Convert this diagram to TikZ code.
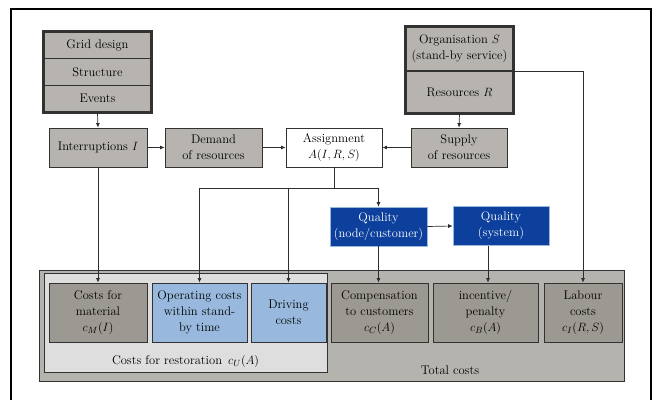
\documentclass[tikz,border=0pt]{standalone}
\usetikzlibrary{arrows.meta,calc}
\definecolor{boxgray}{RGB}{183,180,175}
\definecolor{matgray}{RGB}{156,152,146}
\definecolor{totgray}{RGB}{181,179,173}
\definecolor{restgray}{RGB}{222,222,222}
\definecolor{lblue}{RGB}{152,185,221}
\definecolor{dblue}{RGB}{12,64,156}
\definecolor{edge}{RGB}{50,50,50}
\definecolor{linec}{RGB}{45,45,45}
\begin{document}
\begin{tikzpicture}[x=1pt,y=-1pt,
  every node/.style={font=\fontsize{12.5}{16}\selectfont, inner sep=0pt, align=center},
  gbox/.style={draw=edge, fill=boxgray, line width=0.8pt},
  stackbox/.style={draw=edge, fill=boxgray, line width=1.6pt},
  costbox/.style={draw=edge, line width=0.8pt},
  qbox/.style={draw=lblue, fill=dblue, text=white, line width=0.6pt},
  conn/.style={draw=linec, line width=0.7pt},
  arr/.style={conn, -{Latex[length=4.5pt,width=4pt]}}
]
\useasboundingbox (0,0) rectangle (654,400);
% outer frame (open at bottom)
\draw[line width=1.4pt, draw=black] (11,400) -- (11,9) -- (651,9) -- (651,400);

% left stack
\node[stackbox, minimum width=107pt, minimum height=26.7pt] (gd) at (97.5,45.3) {Grid design};
\node[stackbox, minimum width=107pt, minimum height=26.7pt] (st) at (97.5,72) {Structure};
\node[stackbox, minimum width=107pt, minimum height=26.7pt] (ev) at (97.5,98.7) {Events};
\draw[edge, line width=3pt] (gd.north west) rectangle (ev.south east);

% right stack
\node[stackbox, minimum width=107pt, minimum height=44pt] (org) at (459.5,49) {Organisation $S$\\(stand-by service)};
\node[stackbox, minimum width=107pt, minimum height=42pt] (res) at (459.5,92) {Resources $R$};
\draw[edge, line width=3pt] (org.north west) rectangle (res.south east);

% second row
\node[gbox, minimum width=98pt, minimum height=39pt] (intr) at (98,147.5) {Interruptions $I$};
\node[gbox, minimum width=97pt, minimum height=39pt] (dem) at (213.5,147.5) {Demand\\of resources};
\node[draw=edge, fill=white, line width=0.8pt, minimum width=96pt, minimum height=39pt] (asg) at (334,147.5) {Assignment\\$A(I,R,S)$};
\node[gbox, minimum width=96pt, minimum height=39pt] (sup) at (459,147.5) {Supply\\of resources};

% quality
\node[qbox, minimum width=97pt, minimum height=39pt] (qn) at (378.5,226.5) {Quality\\(node/customer)};
\node[qbox, minimum width=96pt, minimum height=39pt] (qs) at (501,226) {Quality\\(system)};

% cost containers
\node[draw=edge, fill=totgray, line width=1pt, minimum width=585pt, minimum height=111pt] (tot) at (331.5,325.5) {};
\node[draw=edge, fill=restgray, line width=0.8pt, minimum width=283pt, minimum height=99pt] (rest) at (185.5,322.5) {};
\node (restl) at (185.5,361) {Costs for restoration \,$c_U(A)$};
\node (totl) at (450,370) {Total costs};

\node[costbox, fill=matgray, minimum width=98pt, minimum height=59pt] (mat) at (98,312.5) {Costs for\\material\\$c_M(I)$};
\node[costbox, fill=lblue, minimum width=95pt, minimum height=59pt] (op) at (199.5,312.5) {Operating costs\\within stand-\\by time};
\node[costbox, fill=lblue, minimum width=75pt, minimum height=59pt] (drv) at (288.5,312.5) {Driving\\costs};
\node[costbox, fill=matgray, minimum width=97pt, minimum height=59pt] (comp) at (379.5,312.5) {Compensation\\to customers\\$c_C(A)$};
\node[costbox, fill=matgray, minimum width=105pt, minimum height=59pt] (inc) at (485.5,312.5) {incentive/\\penalty\\$c_B(A)$};
\node[costbox, fill=matgray, minimum width=78pt, minimum height=59pt] (lab) at (583,312.5) {Labour\\costs\\$c_I(R,S)$};

% connectors
\draw[arr] (ev.south) -- (intr.north);
\draw[arr] (intr.east) -- (dem.west);
\draw[arr] (dem.east) -- (asg.west);
\draw[arr] (sup.west) -- (asg.east);
\draw[arr] (res.south) -- (sup.north);
\draw[arr] (intr.south) -- (mat.north);

\coordinate (jj) at ($(asg.south)+(0,20.5)$);
\draw[conn] (asg.south) -- (jj);
\draw[conn] (jj -| op.north) -- (jj -| qn.north);
\draw[arr] (jj -| op.north) -- (op.north);
\draw[arr] (jj -| drv.north) -- (drv.north);
\draw[arr] (jj -| qn.north) -- (qn.north);

\draw[arr] (qn.east) -- (qs.west);
\draw[arr] (qn.south) -- (qn.south |- comp.north);
\coordinate (qsb) at ($(qs.south -| inc.north)+(2.5,0)$);
\draw[arr] (qsb) -- (qsb |- inc.north);
\draw[arr] (org.south east) -| (lab.north);
\end{tikzpicture}
\end{document}
